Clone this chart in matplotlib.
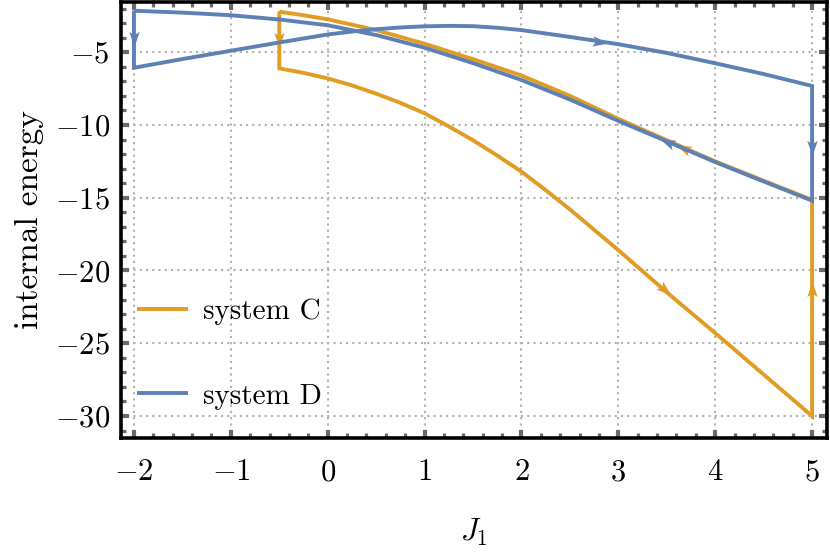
import numpy as np
import matplotlib
matplotlib.use('Agg')
import matplotlib.pyplot as plt
from matplotlib.path import Path
from matplotlib.markers import MarkerStyle
from matplotlib.transforms import Affine2D
from matplotlib.ticker import MultipleLocator, FixedLocator

# ---------------- data ----------------
x_ticks = [-2, -1, 0, 1, 2, 3, 4, 5]
y_ticks = [-30, -25, -20, -15, -10, -5]

# system C (orange) - four strokes of the cycle
c1_J = [-0.5, -0.5]
c1_E = [-2.22, -6.11]
c2_J = [-0.5, -0.25, 0, 0.25, 0.5, 0.75, 1, 1.25, 1.5, 1.75, 2, 2.25, 2.5, 3, 3.5, 4, 4.5, 5]
c2_E = [-6.11, -6.42, -6.8, -7.28, -7.85, -8.48, -9.2, -10.1, -11.05, -12.1, -13.21,
        -14.48, -15.8, -18.6, -21.5, -24.3, -27.15, -30.0]
c3_J = [5, 5]
c3_E = [-30.0, -15.15]
c4_J = [5, 4.5, 4, 3.5, 3, 2.5, 2, 1.5, 1, 0.5, 0, -0.25, -0.5]
c4_E = [-15.15, -13.83, -12.5, -11.05, -9.58, -8.0, -6.6, -5.48, -4.42, -3.48, -2.74, -2.46, -2.22]

# system D (blue)
d1_J = [-2, -2]
d1_E = [-2.15, -6.07]
d2_J = [-2, -1.5, -1, -0.5, 0, 0.25, 0.5, 0.75, 1, 1.25, 1.5, 1.75, 2, 2.5, 3, 3.5, 4, 4.5, 5]
d2_E = [-6.07, -5.47, -4.9, -4.33, -3.78, -3.58, -3.42, -3.3, -3.22, -3.19, -3.21, -3.32,
        -3.48, -3.95, -4.45, -5.05, -5.76, -6.5, -7.32]
d3_J = [5, 5]
d3_E = [-7.32, -15.2]
d4_J = [5, 4.5, 4, 3.5, 3, 2.5, 2, 1.5, 1, 0.5, 0, -0.5, -1, -1.5, -2]
d4_E = [-15.2, -13.88, -12.55, -11.12, -9.72, -8.25, -6.91, -5.75, -4.69, -3.82, -3.15, -2.75, -2.46, -2.28, -2.15]

labels = ['system C', 'system D']
colors = ['#E19C24', '#5E81B5']

# ---------------- style ----------------
plt.rcParams['font.family'] = ['cmr10', 'DejaVu Serif']
plt.rcParams['mathtext.fontset'] = 'cm'
plt.rcParams['axes.formatter.use_mathtext'] = True
plt.rcParams['axes.unicode_minus'] = True

fig = plt.figure(figsize=(8.3, 5.59), dpi=100)
ax = fig.add_axes([121/830, 1 - 438/559, (827 - 121)/830, (438 - 2)/559])
ax.set_xlim(-2.134, 5.154)
ax.set_ylim(-31.51, -1.55)

segC = [(c1_J, c1_E), (c2_J, c2_E), (c3_J, c3_E), (c4_J, c4_E)]
segD = [(d1_J, d1_E), (d2_J, d2_E), (d3_J, d3_E), (d4_J, d4_E)]


def loop(segs):
    J, E = list(segs[0][0]), list(segs[0][1])
    for sj, se in segs[1:]:
        J += list(sj[1:])
        E += list(se[1:])
    return J, E


lw = 2.8
CJ, CE = loop(segC)
DJ, DE = loop(segD)
lineC, = ax.plot(CJ, CE, color=colors[0], lw=lw, zorder=2, label=labels[0],
                 solid_joinstyle='miter', solid_capstyle='butt')
lineD, = ax.plot(DJ, DE, color=colors[1], lw=lw, zorder=3, label=labels[1],
                 solid_joinstyle='miter', solid_capstyle='butt')

# arrow heads (Mathematica-like notched heads)
head = Path([(0.5, 0), (-0.5, 0.34), (-0.28, 0), (-0.5, -0.34), (0.5, 0)],
            [Path.MOVETO, Path.LINETO, Path.LINETO, Path.LINETO, Path.CLOSEPOLY])


def arrow_on(J, E, frac, color, z):
    pts = ax.transData.transform(np.column_stack([J, E]))
    seg = np.hypot(*np.diff(pts, axis=0).T)
    d = np.r_[0, np.cumsum(seg)]
    s = frac * d[-1]
    i = int(np.clip(np.searchsorted(d, s) - 1, 0, len(seg) - 1))
    t = (s - d[i]) / seg[i]
    p = pts[i] + t * (pts[i + 1] - pts[i])
    v = pts[i + 1] - pts[i]
    ang = np.degrees(np.arctan2(v[1], v[0]))
    xd, yd = ax.transData.inverted().transform(p)
    m = MarkerStyle(head, transform=Affine2D().rotate_deg(ang))
    ax.plot([xd], [yd], marker=m, ms=11, color=color, mew=0, ls='none', zorder=z)


fracC = [0.5, 0.70, 0.59, 0.245]
fracD = [0.5, 0.685, 0.54, 0.22]
for (sj, se), f in zip(segC, fracC):
    arrow_on(sj, se, f, colors[0], 2.5)
for (sj, se), f in zip(segD, fracD):
    arrow_on(sj, se, f, colors[1], 3.5)

# axes, ticks, grid
ax.xaxis.set_major_locator(FixedLocator(x_ticks))
ax.yaxis.set_major_locator(FixedLocator(y_ticks))
ax.xaxis.set_minor_locator(MultipleLocator(0.2))
ax.yaxis.set_minor_locator(MultipleLocator(1))
ax.tick_params(which='both', direction='in', top=True, right=True, color='#6b6b6b')
ax.tick_params(which='major', length=5.5, width=3.0, labelsize=22)
ax.tick_params(which='minor', length=3.5, width=2.3)
ax.tick_params(axis='x', which='major', pad=15)
ax.tick_params(axis='y', which='major', pad=8)
for sp in ax.spines.values():
    sp.set_linewidth(2.6)
    sp.set_color('black')
    sp.set_zorder(5)
ax.set_axisbelow(True)
ax.grid(True, which='major', color='#b0b0b0', ls=(0, (1, 2)), lw=1.5)

ax.set_xlabel(r'$J_1$', fontsize=22, labelpad=22)
ax.set_ylabel('internal energy', fontsize=24, labelpad=8)

ax.legend(handles=[lineC, lineD], loc='upper left', bbox_to_anchor=(0.0227, 0.319),
          frameon=False, fontsize=21, handlelength=1.75, handletextpad=0.5,
          labelspacing=1.98, borderpad=0, borderaxespad=0)

fig.savefig('out.png', dpi=100)
